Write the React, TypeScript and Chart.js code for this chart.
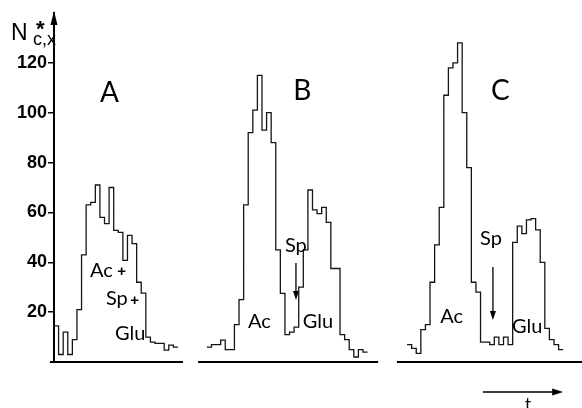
import React, { useEffect, useRef } from 'react';
import { Chart, registerables } from 'chart.js';

Chart.register(...registerables);

// y-axis tick labels
const yTicks = [20, 40, 60, 80, 100, 120];

// start time (channel units) of each record
const startA = 0;
const startB = 33.3;
const startC = 76.9;

// N*c,x per channel
const seriesA = [14.5, 3, 12, 3, 9, 21, 43, 63, 64, 71, 58, 55.5, 70, 52.8, 52, 40.8, 50.8, 47.5, 32, 27.6, 10, 8, 7.5, 7.5, 4.8, 6.8, 6];
const seriesB = [6, 7, 7, 8.8, 5, 5, 15, 25, 63, 92, 101, 115, 93, 100, 88, 45, 27.5, 11, 12, 14, 30, 45, 69, 61, 59.5, 62, 56, 37.5, 37.5, 11, 9, 5, 2, 5, 4];
const seriesC = [7, 5.5, 3.5, 13, 15, 32, 47, 62, 107, 118, 120, 128, 100, 78, 32, 28, 8, 8, 7, 10, 7, 10, 7, 48, 54.5, 51.5, 57, 57.5, 53, 40, 13.5, 9, 7, 5];

// baseline extents (channel units)
const baselineA = [-0.9, 28.1];
const baselineB = [31.4, 70.6];
const baselineC = [74.7, 115];

const panelLetters = ['A', 'B', 'C'];

const LINE = '#151515';

function stepPoints(start: number, values: number[]) {
  const pts = values.map((v, i) => ({ x: start + i, y: v }));
  pts.push({ x: start + values.length, y: values[values.length - 1] });
  return pts;
}

function baseline(ext: number[]) {
  return ext.map((x) => ({ x, y: 0 }));
}

// annotation placements in data units (x: channel, y: N value)
const letterPos = [
  { x: 10.0, y: 104.3 },
  { x: 52.1, y: 105.1 },
  { x: 95.2, y: 105.1 },
];

const texts = [
  { t: 'Ac', x: 7.84, y: 34.1 },
  { t: 'Sp', x: 11.3, y: 22.9 },
  { t: 'Glu', x: 13.3, y: 8.8 },
  { t: 'Ac', x: 42.25, y: 13.6 },
  { t: 'Sp', x: 50.3, y: 44.1 },
  { t: 'Glu', x: 54.2, y: 13.6 },
  { t: 'Ac', x: 84.1, y: 15.6 },
  { t: 'Sp', x: 92.8, y: 46.9 },
  { t: 'Glu', x: 99.75, y: 11.6 },
];
const plusses = [
  { x: 13.8, y: 34.6 },
  { x: 16.6, y: 23.0 },
];
const downArrows = [
  { x: 52.7, y0: 39.7, y1: 24.9 },
  { x: 95.6, y0: 38.1, y1: 16.8 },
];
const timeArrow = { x0: 93.4, x1: 110.9, y: -12 };
const timeLabel = { x: 102.6, y: -19.4 };

const annotate = {
  id: 'annotate',
  afterDraw(chart: any) {
    const { ctx, scales, chartArea } = chart;
    const xs = scales.x;
    const ys = scales.y;
    const px = (v: number) => xs.getPixelForValue(v);
    const py = (v: number) => ys.getPixelForValue(v);
    ctx.save();
    ctx.fillStyle = '#000';
    ctx.strokeStyle = '#000';

    // y axis arrow head
    const ax = chartArea.left;
    ctx.beginPath();
    ctx.moveTo(ax, chartArea.top - 2);
    ctx.lineTo(ax - 3.5, chartArea.top + 12);
    ctx.lineTo(ax + 3.5, chartArea.top + 12);
    ctx.closePath();
    ctx.fill();

    // y axis title N*c,x
    ctx.textAlign = 'left';
    ctx.textBaseline = 'alphabetic';
    ctx.font = '23px "Liberation Sans"';
    ctx.fillText('N', ax - 43, 40);
    ctx.font = 'bold 22px "Liberation Sans"';
    ctx.fillText('*', ax - 18, 36);
    ctx.font = '18px "Liberation Sans"';
    ctx.fillText('c,x', ax - 21, 45);

    // panel letters
    ctx.font = '28px Lato';
    panelLetters.forEach((l, i) => {
      ctx.fillText(l, px(letterPos[i].x), py(letterPos[i].y));
    });

    // labels
    ctx.font = '20px Lato';
    texts.forEach((t) => ctx.fillText(t.t, px(t.x), py(t.y)));
    ctx.font = 'bold 15px "Liberation Sans"';
    plusses.forEach((p) => ctx.fillText('+', px(p.x), py(p.y)));

    // down arrows (Sp)
    ctx.lineWidth = 1.3;
    downArrows.forEach((a) => {
      const x = px(a.x);
      const y0 = py(a.y0);
      const y1 = py(a.y1);
      ctx.beginPath();
      ctx.moveTo(x, y0);
      ctx.lineTo(x, y1 - 6);
      ctx.stroke();
      ctx.beginPath();
      ctx.moveTo(x, y1);
      ctx.lineTo(x - 3, y1 - 9);
      ctx.lineTo(x + 3, y1 - 9);
      ctx.closePath();
      ctx.fill();
    });

    // time arrow
    const tx0 = px(timeArrow.x0);
    const tx1 = px(timeArrow.x1);
    const ty = py(timeArrow.y);
    ctx.lineWidth = 1.5;
    ctx.beginPath();
    ctx.moveTo(tx0, ty);
    ctx.lineTo(tx1 - 8, ty);
    ctx.stroke();
    ctx.beginPath();
    ctx.moveTo(tx1, ty);
    ctx.lineTo(tx1 - 11, ty - 3.5);
    ctx.lineTo(tx1 - 11, ty + 3.5);
    ctx.closePath();
    ctx.fill();
    ctx.font = '17px Lato';
    ctx.fillText('t', px(timeLabel.x), py(timeLabel.y));
    ctx.restore();
  },
};

export default function App() {
  const ref = useRef<HTMLCanvasElement>(null);
  useEffect(() => {
    if (!ref.current) return;
    const stepDs = (data: any[]) => ({
      data,
      stepped: 'before' as const,
      borderColor: LINE,
      borderWidth: 1.3,
      pointRadius: 0,
      fill: false,
      tension: 0,
      clip: false as any,
    });
    const baseDs = (data: any[]) => ({
      data,
      borderColor: '#000',
      borderWidth: 2,
      pointRadius: 0,
      fill: false,
      clip: false as any,
    });
    const chart = new Chart(ref.current, {
      type: 'line',
      data: {
        datasets: [
          baseDs(baseline(baselineA)),
          baseDs(baseline(baselineB)),
          baseDs(baseline(baselineC)),
          stepDs(stepPoints(startA, seriesA)),
          stepDs(stepPoints(startB, seriesB)),
          stepDs(stepPoints(startC, seriesC)),
        ],
      },
      options: {
        responsive: false,
        animation: false,
        events: [],
        layout: { padding: { left: 0, right: 0, top: 13, bottom: 46 }, autoPadding: false },
        plugins: { legend: { display: false }, tooltip: { enabled: false } },
        scales: {
          x: { type: 'linear', min: 0, max: 115, display: false },
          y: {
            type: 'linear',
            min: 0,
            max: 140,
            afterFit: (s: any) => {
              s.width = 54;
            },
            afterBuildTicks: (s: any) => {
              s.ticks = yTicks.map((v) => ({ value: v }));
            },
            border: { display: true, color: '#000', width: 2 },
            grid: { drawOnChartArea: false, drawTicks: true, tickLength: 6, color: '#000', lineWidth: 1.5 },
            ticks: {
              color: '#000',
              padding: 1,
              font: { family: '"Liberation Sans"', size: 18, weight: 'bold' },
            },
          },
        },
      },
      plugins: [annotate],
    });
    return () => chart.destroy();
  }, []);
  return (
    <div style={{ position: 'absolute', left: 0, top: 0, width: 582, height: 408, background: '#fff' }}>
      <canvas ref={ref} width={582} height={408} style={{ display: 'block' }} />
    </div>
  );
}
